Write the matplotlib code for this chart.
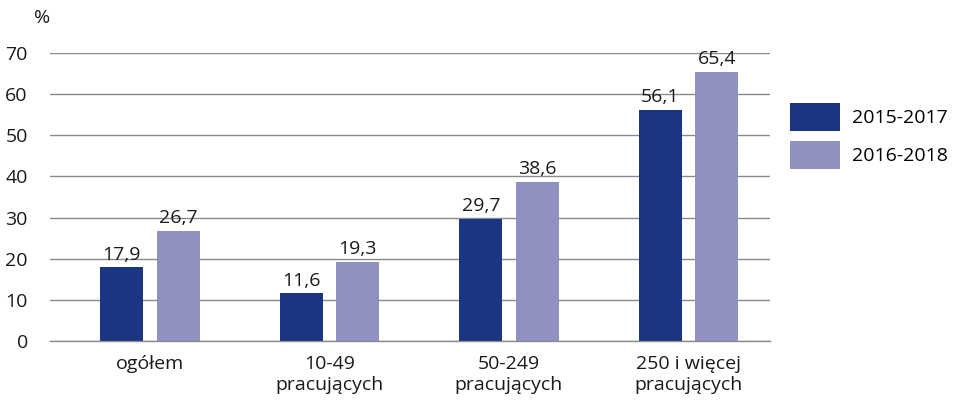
import matplotlib
matplotlib.use("Agg")
import matplotlib.pyplot as plt
import numpy as np
from matplotlib.patches import Patch

categories = ["ogółem", "10-49\npracujących", "50-249\npracujących", "250 i więcej\npracujących"]
series_names = ["2015-2017", "2016-2018"]
values_2015_2017 = [17.9, 11.6, 29.7, 56.1]
values_2016_2018 = [26.7, 19.3, 38.6, 65.4]
y_ticks = [0, 10, 20, 30, 40, 50, 60, 70]

dark = "#1b3582"
light = "#8f92c0"
grid_color = "#8a8a8a"

plt.rcParams["font.family"] = ["Open Sans", "DejaVu Sans"]
fs = 14

fig = plt.figure(figsize=(9.54, 4.01), dpi=100)
ax = fig.add_axes([50 / 954, 1 - 341 / 401, 720 / 954, (341 - 53) / 401])

x = np.arange(len(categories))
w = 0.24
off = 0.157
b1 = ax.bar(x - off, values_2015_2017, w, color=dark, zorder=3)
b2 = ax.bar(x + off, values_2016_2018, w, color=light, zorder=3)

for bars, vals in ((b1, values_2015_2017), (b2, values_2016_2018)):
    for r, v in zip(bars, vals):
        ax.text(r.get_x() + r.get_width() / 2, v + 0.9, f"{v:.1f}".replace(".", ","),
                ha="center", va="bottom", fontsize=fs, color="#1a1a1a")

ax.set_xlim(-0.557, 3.454)
ax.set_ylim(0, 70)
ax.set_yticks(y_ticks)
ax.set_yticklabels([str(t) for t in y_ticks], fontsize=fs, color="#1a1a1a")
ax.set_xticks(x)
ax.set_xticklabels(categories, fontsize=fs, color="#1a1a1a", linespacing=1.25)
ax.tick_params(axis="both", length=0)
ax.tick_params(axis="y", pad=16)
ax.tick_params(axis="x", pad=10)
ax.yaxis.grid(True, color=grid_color, linewidth=1.0, zorder=0)
for s in ("top", "right", "left"):
    ax.spines[s].set_visible(False)
ax.spines["bottom"].set_color(grid_color)
ax.spines["bottom"].set_linewidth(1.0)
ax.spines["bottom"].set_zorder(4)

fig.text(42 / 954, 1 - 18 / 401, "%", ha="center", va="center", fontsize=fs, color="#1a1a1a")

handles = [Patch(facecolor=dark), Patch(facecolor=light)]
fig.legend(handles, series_names, loc="upper left", bbox_to_anchor=(786 / 954, 1 - 99 / 401),
           frameon=False, fontsize=fs, handlelength=2.58, handleheight=1.85,
           handletextpad=0.62, labelspacing=0.5, borderaxespad=0, borderpad=0.2)

fig.savefig("out.png", dpi=100)
